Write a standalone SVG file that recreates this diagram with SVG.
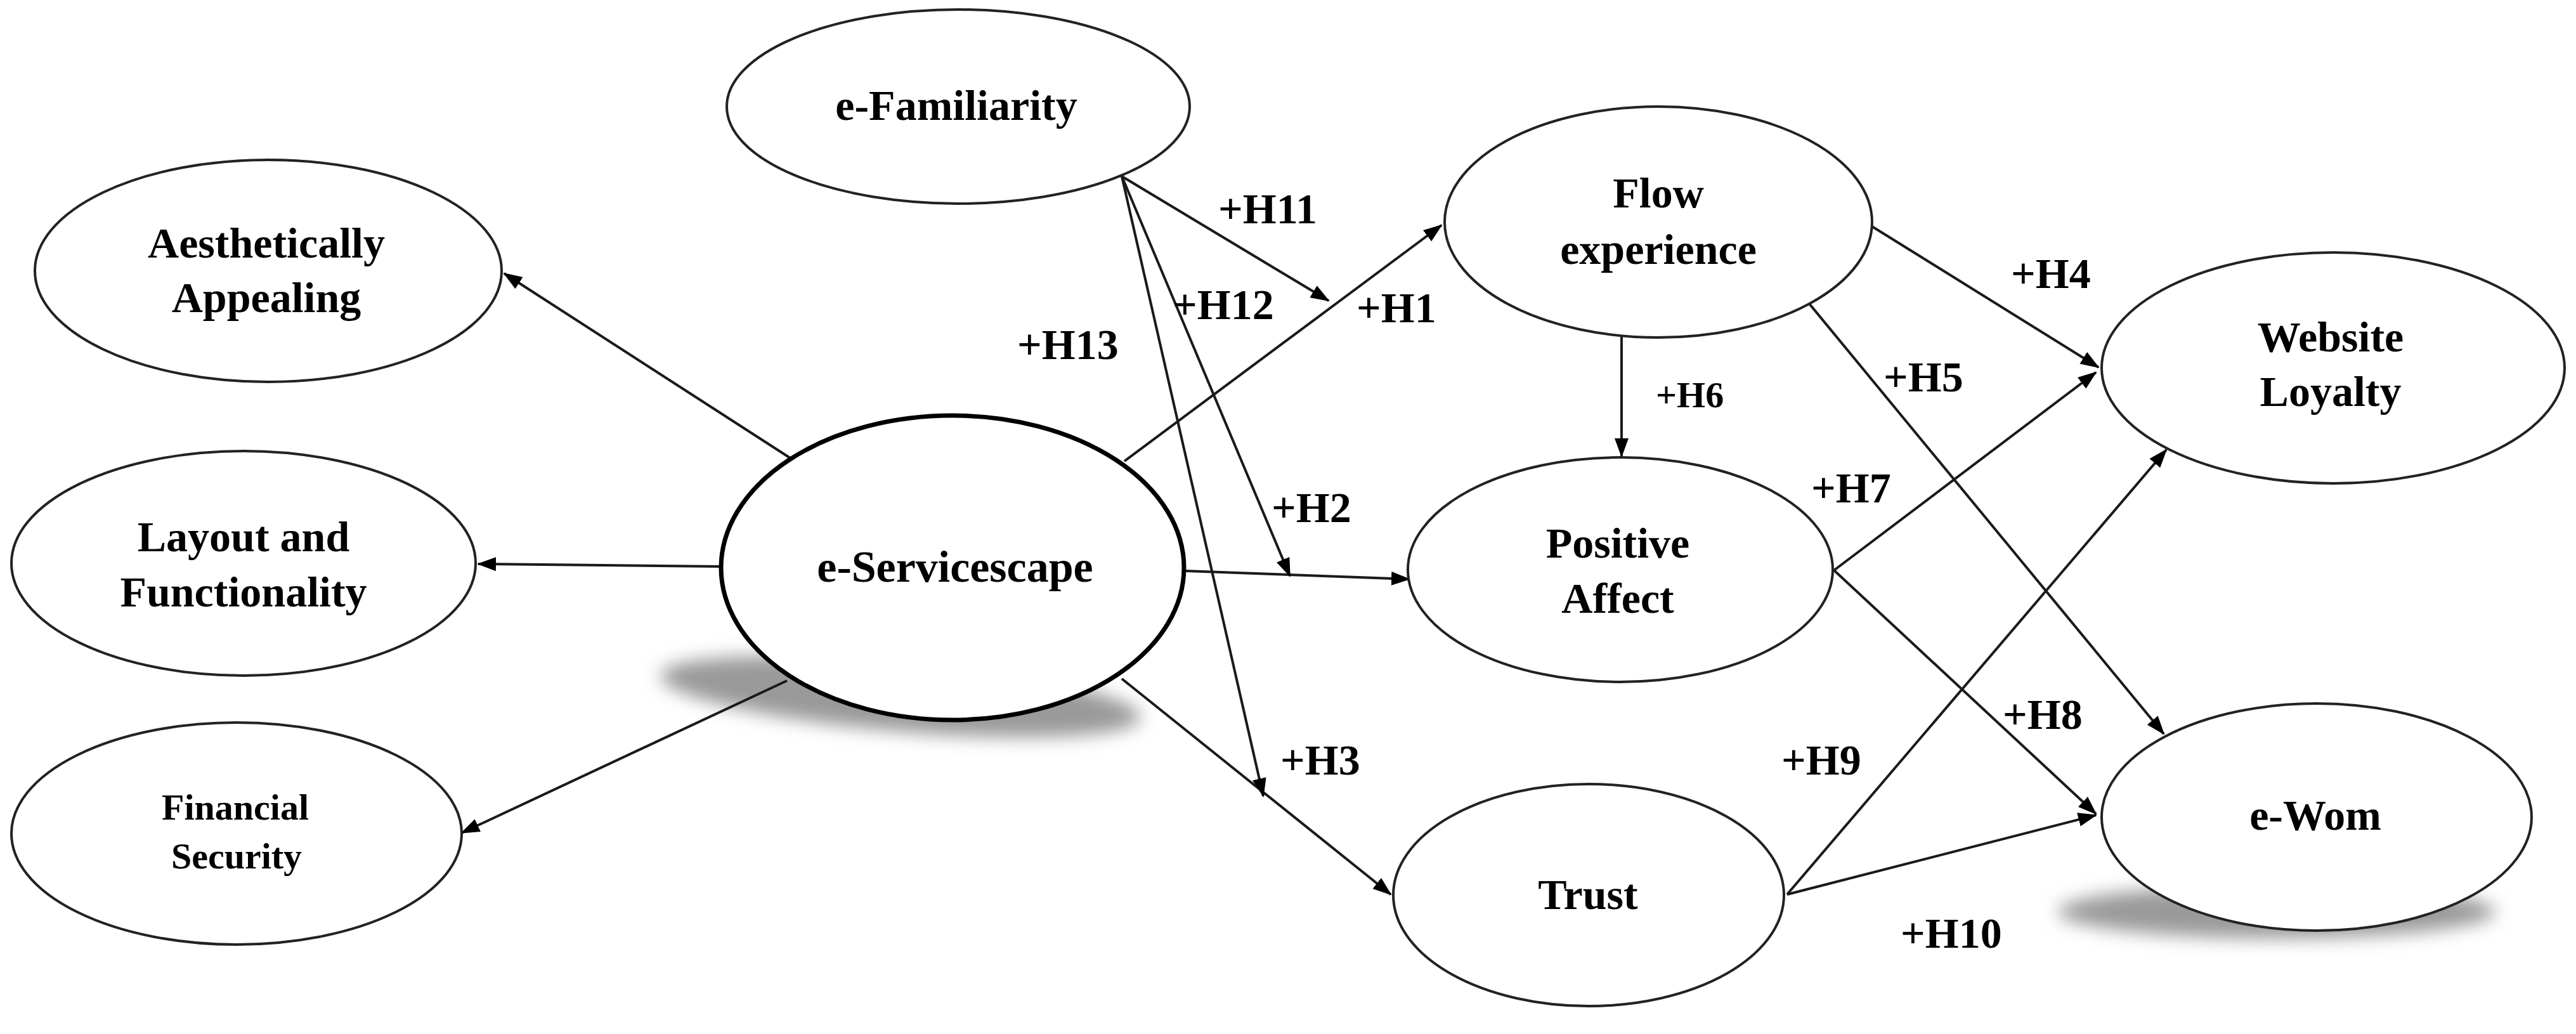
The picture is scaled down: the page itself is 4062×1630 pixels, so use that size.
<svg xmlns="http://www.w3.org/2000/svg" width="4062" height="1630" viewBox="0 0 4062 1630">
<style>
.node{fill:#fff;stroke:#222;stroke-width:4}
.thick{stroke:#000;stroke-width:7}
.t{font-family:"Liberation Serif","Times New Roman",serif;font-weight:bold;font-size:68px;fill:#000;text-anchor:middle}
.s{font-size:58px}
.lab{font-family:"Liberation Serif","Times New Roman",serif;font-weight:bold;font-size:68px;fill:#000}
.edge{stroke:#1a1a1a;stroke-width:4;fill:none;marker-end:url(#arr)}
</style>
<defs>
<marker id="arr" markerUnits="userSpaceOnUse" markerWidth="30" markerHeight="22" refX="28" refY="11" orient="auto">
<path d="M0,0 L30,11 L0,22 z" fill="#000"/>
</marker>
<filter id="blur" x="-30%" y="-100%" width="160%" height="300%">
<feGaussianBlur stdDeviation="14"/>
</filter>
</defs>
<rect width="4062" height="1630" fill="#fff"/>
<g id="shadows">
<ellipse cx="1420" cy="1098" rx="380" ry="55" fill="#9a9a9a" filter="url(#blur)" transform="rotate(5 1420 1098)"/>
<ellipse cx="3590" cy="1437" rx="345" ry="42" fill="#9a9a9a" filter="url(#blur)"/>
</g>
<g id="connectors">
<line class="edge" x1="1246" y1="722" x2="795" y2="431"/>
<line class="edge" x1="1134" y1="893" x2="754" y2="889"/>
<line class="edge" x1="1241" y1="1073" x2="728" y2="1313"/>
<line class="edge" x1="1773" y1="727" x2="2273" y2="355"/>
<line class="edge" x1="1870" y1="900" x2="2222" y2="913"/>
<line class="edge" x1="1769" y1="1070" x2="2193" y2="1410"/>
<line class="edge" x1="1769" y1="278" x2="2095" y2="474"/>
<line class="edge" x1="1769" y1="278" x2="2034" y2="908"/>
<line class="edge" x1="1769" y1="278" x2="1992" y2="1255"/>
<line class="edge" x1="2557" y1="531" x2="2557" y2="719"/>
<line class="edge" x1="2952" y1="357" x2="3309" y2="579"/>
<line class="edge" x1="2854" y1="480" x2="3412" y2="1157"/>
<line class="edge" x1="2892" y1="899" x2="3305" y2="587"/>
<line class="edge" x1="2892" y1="899" x2="3305" y2="1283"/>
<line class="edge" x1="2818" y1="1410" x2="3416" y2="709"/>
<line class="edge" x1="2818" y1="1410" x2="3305" y2="1285"/>
</g>
<g id="efamiliarity">
<ellipse class="node" cx="1511" cy="168" rx="365" ry="153"/>
<text class="t" x="1508" y="189">e-Familiarity</text>
</g>
<g id="aesthetically">
<ellipse class="node" cx="423" cy="427" rx="368" ry="175"/>
<text class="t" x="420" y="406">Aesthetically</text>
<text class="t" x="420" y="492">Appealing</text>
</g>
<g id="layout">
<ellipse class="node" cx="384" cy="888" rx="366" ry="177"/>
<text class="t" x="384" y="869">Layout and</text>
<text class="t" x="384" y="956">Functionality</text>
</g>
<g id="financial">
<ellipse class="node" cx="373" cy="1314" rx="355" ry="175"/>
<text class="t s" x="371" y="1292">Financial</text>
<text class="t s" x="373" y="1369">Security</text>
</g>
<g id="eservicescape">
<ellipse class="node thick" cx="1502" cy="895" rx="365" ry="240"/>
<text class="t" x="1506" y="917" style="font-size:70px">e-Servicescape</text>
</g>
<g id="flow">
<ellipse class="node" cx="2615" cy="350" rx="337" ry="182"/>
<text class="t" x="2615" y="327">Flow</text>
<text class="t" x="2615" y="416">experience</text>
</g>
<g id="positive">
<ellipse class="node" cx="2555" cy="898" rx="335" ry="177"/>
<text class="t" x="2551" y="879">Positive</text>
<text class="t" x="2551" y="966">Affect</text>
</g>
<g id="trust">
<ellipse class="node" cx="2505" cy="1411" rx="308" ry="175"/>
<text class="t" x="2504" y="1433">Trust</text>
</g>
<g id="website">
<ellipse class="node" cx="3679" cy="580" rx="365" ry="182"/>
<text class="t" x="3675" y="554">Website</text>
<text class="t" x="3675" y="640">Loyalty</text>
</g>
<g id="ewom">
<ellipse class="node" cx="3653" cy="1288" rx="339" ry="179"/>
<text class="t" x="3651" y="1308">e-Wom</text>
</g>
<g id="labels">
<text class="lab" x="1921" y="352">+H11</text>
<text class="lab" x="1849" y="503">+H12</text>
<text class="lab" x="2139" y="508">+H1</text>
<text class="lab" x="1604" y="566">+H13</text>
<text class="lab" x="2005" y="823">+H2</text>
<text class="lab" x="2019" y="1221">+H3</text>
<text class="lab" x="3171" y="454">+H4</text>
<text class="lab" x="2970" y="617">+H5</text>
<text class="lab" x="2611" y="642" style="font-size:58px">+H6</text>
<text class="lab" x="2856" y="792">+H7</text>
<text class="lab" x="3158" y="1149">+H8</text>
<text class="lab" x="2809" y="1221">+H9</text>
<text class="lab" x="2997" y="1494">+H10</text>
</g>
</svg>
